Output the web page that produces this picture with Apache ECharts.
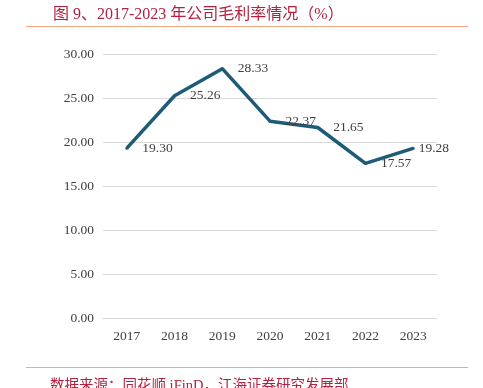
<!DOCTYPE html>
<html><head><meta charset="utf-8">
<script src="https://cdn.jsdelivr.net/npm/echarts@6/dist/echarts.min.js"></script>
<style>html,body{margin:0;padding:0;background:#fff}#c{width:483px;height:388px}</style>
</head><body><div id="c"></div>
<script>
const categories = ['2017','2018','2019','2020','2021','2022','2023'];
const margin = [19.30, 25.26, 28.33, 22.37, 21.65, 17.57, 19.28];
const yTicks = [0, 5, 10, 15, 20, 25, 30];
const titleText = '图 9、2017-2023 年公司毛利率情况（%）';
const sourceText = '数据来源：同花顺 iFinD，江海证券研究发展部';

const chart = echarts.init(document.getElementById('c'));
const serif = '"Liberation Serif","Noto Sans CJK SC",serif';
const seriesData = margin.map((v, i) => i === margin.length - 1
  ? { value: v, label: { distance: 4 } } : v);
chart.setOption({
  animation: false,
  grid: { left: 103, right: 46, top: 54, bottom: 70 },
  xAxis: {
    type: 'category', data: categories, boundaryGap: true,
    axisLine: { show: true, lineStyle: { color: '#d9d9d9' } },
    axisTick: { show: false },
    axisLabel: { color: '#404040', fontFamily: serif, fontSize: 13.5, margin: 12 }
  },
  yAxis: {
    type: 'value', min: yTicks[0], max: yTicks[yTicks.length-1], interval: 5,
    axisLine: { show: false }, axisTick: { show: false },
    splitLine: { lineStyle: { color: '#d9d9d9', width: 1 } },
    axisLabel: { color: '#404040', fontFamily: serif, fontSize: 13.5, margin: 9,
      formatter: v => v.toFixed(2) }
  },
  series: [{
    type: 'line', data: seriesData, symbol: 'circle', symbolSize: 3, showSymbol: true,
    itemStyle: { color: '#1d5b78' },
    lineStyle: { color: '#1d5b78', width: 3.5 },
    label: { show: true, position: 'right', distance: 14, color: '#404040',
      fontFamily: serif, fontSize: 13.5, formatter: p => p.value.toFixed(2) }
  }],
  graphic: [
    { type: 'text', left: 53, top: 7, style: { text: titleText, fill: '#b3213f',
      font: '16px "Liberation Serif","Noto Sans CJK SC",serif' } },
    { type: 'rect', shape: { x: 26, y: 26, width: 442, height: 1 }, style: { fill: '#f4a582' } },
    { type: 'rect', shape: { x: 26, y: 367, width: 442, height: 1 }, style: { fill: '#f4a582' } },
    { type: 'text', left: 50, top: 379, style: { text: sourceText, fill: '#b3213f',
      font: '14.5px "Liberation Serif","Noto Sans CJK SC",serif' } }
  ]
});
</script></body></html>
